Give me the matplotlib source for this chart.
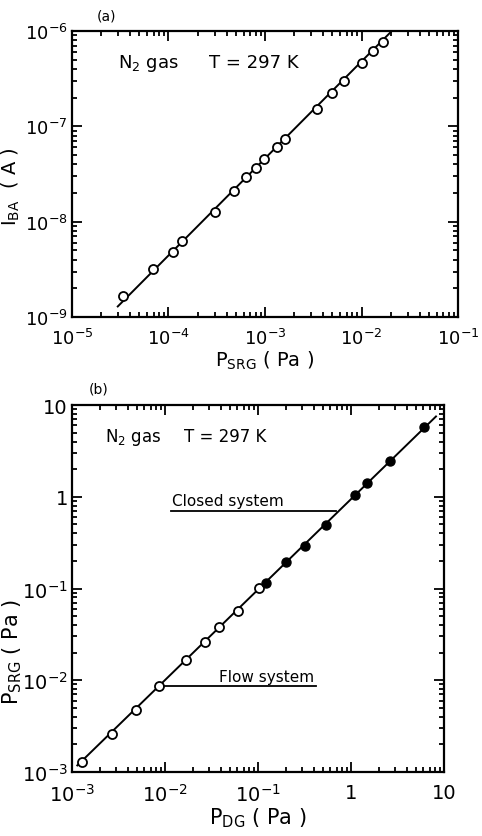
import matplotlib
matplotlib.use('Agg')
import matplotlib.pyplot as plt
from matplotlib.ticker import LogLocator, FixedFormatter, FixedLocator, NullFormatter

plt.rcParams['font.family'] = ['DejaVu Sans']
plt.rcParams['mathtext.fontset'] = 'dejavusans'

# panel (a): ion gauge current vs SRG pressure
p_srg_a = [3.37e-5, 6.86e-5, 1.11e-4, 1.37e-4, 3.05e-4, 4.81e-4, 6.31e-4, 8.13e-4,
           9.77e-4, 1.32e-3, 1.62e-3, 3.43e-3, 4.98e-3, 6.64e-3, 1.0e-2, 1.31e-2, 1.66e-2]
i_ba = [1.67e-9, 3.2e-9, 4.83e-9, 6.2e-9, 1.27e-8, 2.09e-8, 2.94e-8, 3.62e-8,
        4.54e-8, 6.03e-8, 7.31e-8, 1.52e-7, 2.23e-7, 3.01e-7, 4.58e-7, 6.12e-7, 7.72e-7]
fit_a_x = [2.98e-5, 2.06e-2]
fit_a_y = [1.29e-9, 1.0e-6]

# panel (b): SRG vs diaphragm gauge
pdg_flow = [0.00129, 0.0027, 0.00493, 0.00866, 0.0169, 0.0271, 0.0378, 0.0604, 0.102]
psrg_flow = [0.0013, 0.00261, 0.00479, 0.00861, 0.0168, 0.026, 0.0379, 0.0566, 0.102]
pdg_closed = [0.122, 0.201, 0.324, 0.542, 1.10, 1.50, 2.63, 6.11]
psrg_closed = [0.114, 0.193, 0.293, 0.493, 1.04, 1.40, 2.44, 5.71]
fit_b_x = [0.00114, 8.2]
fit_b_y = [0.00118, 7.5]

xticks_a = [1e-5, 1e-4, 1e-3, 1e-2, 1e-1]
xlabels_a = ['$10^{-5}$', '$10^{-4}$', '$10^{-3}$', '$10^{-2}$', '$10^{-1}$']
yticks_a = [1e-9, 1e-8, 1e-7, 1e-6]
ylabels_a = ['$10^{-9}$', '$10^{-8}$', '$10^{-7}$', '$10^{-6}$']
xticks_b = [1e-3, 1e-2, 1e-1, 1, 10]
xlabels_b = ['$10^{-3}$', '$10^{-2}$', '$10^{-1}$', '1', '10']
yticks_b = [1e-3, 1e-2, 1e-1, 1, 10]
ylabels_b = ['$10^{-3}$', '$10^{-2}$', '$10^{-1}$', '1', '10']

fig = plt.figure(figsize=(4.82, 8.37), dpi=100)
W, H = 482, 837


def style(ax, xt, xl, yt, yl, size):
    ax.set_xscale('log')
    ax.set_yscale('log')
    ax.xaxis.set_major_locator(FixedLocator(xt))
    ax.xaxis.set_major_formatter(FixedFormatter(xl))
    ax.yaxis.set_major_locator(FixedLocator(yt))
    ax.yaxis.set_major_formatter(FixedFormatter(yl))
    ax.xaxis.set_minor_locator(LogLocator(base=10, subs=range(2, 10), numticks=20))
    ax.yaxis.set_minor_locator(LogLocator(base=10, subs=range(2, 10), numticks=20))
    ax.xaxis.set_minor_formatter(NullFormatter())
    ax.yaxis.set_minor_formatter(NullFormatter())
    ax.tick_params(which='both', direction='in', top=True, right=True, width=1.3)
    ax.tick_params(which='major', length=7, labelsize=size)
    ax.tick_params(axis='x', which='major', pad=8)
    ax.tick_params(axis='y', which='major', pad=3)
    ax.tick_params(which='minor', length=3.5)
    for s in ax.spines.values():
        s.set_linewidth(1.6)


# (a)
ax1 = fig.add_axes([72 / W, 1 - 318 / H, 386 / W, 286 / H])
ax1.plot(fit_a_x, fit_a_y, color='black', lw=1.4)
ax1.plot(p_srg_a, i_ba, 'o', ms=6.5, mfc='white', mec='black', mew=1.3)
ax1.set_xlim(1e-5, 1e-1)
ax1.set_ylim(1e-9, 1e-6)
style(ax1, xticks_a, xlabels_a, yticks_a, ylabels_a, 13)
ax1.set_xlabel(r'$\mathrm{P_{SRG}}$ ( Pa )', fontsize=14, labelpad=0)
ax1.set_ylabel(r'$\mathrm{I_{BA}}$  ( A )', fontsize=14)
ax1.yaxis.set_label_coords(-0.13, 0.46)
ax1.text(0.12, 0.89, r'$\mathrm{N_2}$ gas', transform=ax1.transAxes, fontsize=13, va='center')
ax1.text(0.355, 0.89, 'T = 297 K', transform=ax1.transAxes, fontsize=13, va='center')
ax1.text(0.065, 1.055, '(a)', transform=ax1.transAxes, fontsize=10, va='center')

# (b)
ax2 = fig.add_axes([72 / W, 1 - 773 / H, 372 / W, 367 / H])
ax2.plot(fit_b_x, fit_b_y, color='black', lw=1.4)
ax2.plot(pdg_flow, psrg_flow, 'o', ms=6.5, mfc='white', mec='black', mew=1.3)
ax2.plot(pdg_closed, psrg_closed, 'o', ms=6.5, mfc='black', mec='black')
ax2.plot([0.0117, 0.683], [0.706, 0.706], color='black', lw=1.3)
ax2.text(0.0119, 0.92, 'Closed system', fontsize=11, va='center')
ax2.plot([0.00964, 0.425], [0.00875, 0.00875], color='black', lw=1.3)
ax2.text(0.0378, 0.0111, 'Flow system', fontsize=11, va='center')
ax2.set_xlim(1e-3, 10)
ax2.set_ylim(1e-3, 10)
style(ax2, xticks_b, xlabels_b, yticks_b, ylabels_b, 14)
ax2.set_xlabel(r'$\mathrm{P_{DG}}$ ( Pa )', fontsize=15, labelpad=0)
ax2.set_ylabel(r'$\mathrm{P_{SRG}}$ ( Pa )', fontsize=15)
ax2.yaxis.set_label_coords(-0.13, 0.33)
ax2.text(0.09, 0.915, r'$\mathrm{N_2}$ gas', transform=ax2.transAxes, fontsize=12, va='center')
ax2.text(0.3, 0.915, 'T = 297 K', transform=ax2.transAxes, fontsize=12, va='center')
ax2.text(0.045, 1.045, '(b)', transform=ax2.transAxes, fontsize=10, va='center')

fig.savefig('out.png', dpi=100)
